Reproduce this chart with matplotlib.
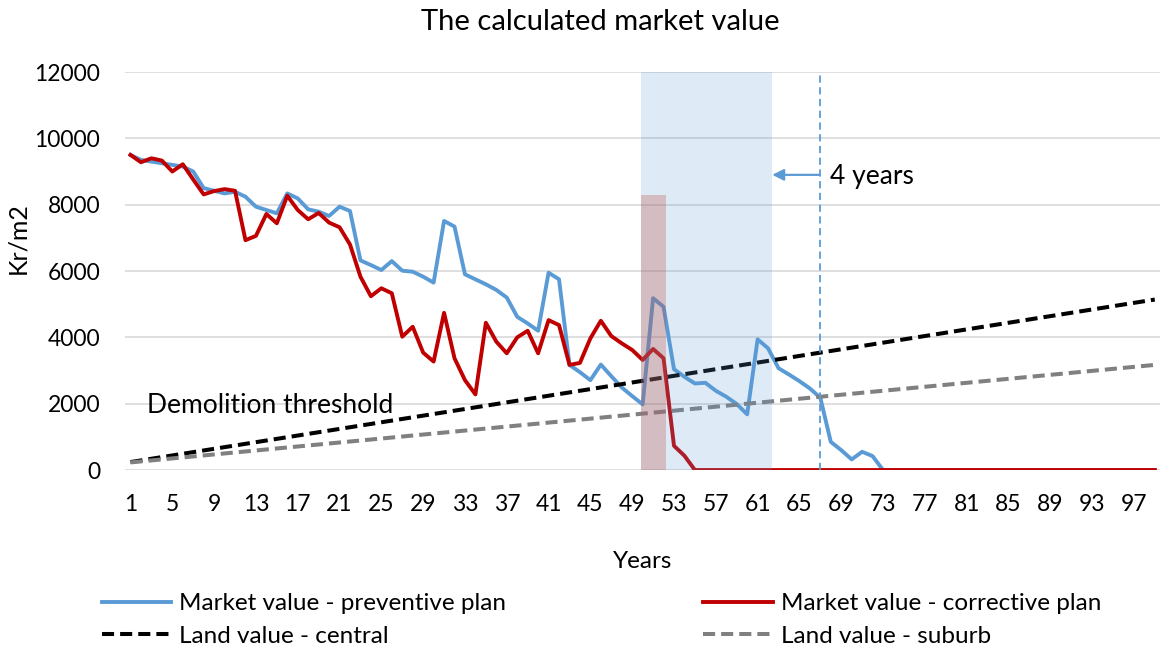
import matplotlib.pyplot as plt
from matplotlib.lines import Line2D

plt.rcParams["font.family"] = ["Lato", "DejaVu Sans"]

years = list(range(1, 100))

# Market value - preventive plan (Kr/m2)
preventive = [
    9500, 9350, 9300, 9250, 9200, 9150, 9000, 8500, 8420, 8340,
    8390, 8240, 7940, 7840, 7740, 8340, 8190, 7860, 7790, 7660,
    7940, 7810, 6320, 6180, 6030, 6300, 6010, 5980, 5830, 5650,
    7510, 7340, 5900, 5750, 5600, 5430, 5200, 4620, 4420, 4200,
    5950, 5750, 3170, 2950, 2710, 3180, 2830, 2490, 2230, 1980,
    5180, 4920, 3040, 2810, 2610, 2630, 2390, 2210, 1990, 1680,
    3940, 3670, 3070, 2880, 2680, 2460, 2180, 850, 600, 320,
    550, 420, 0, 0, 0, 0, 0, 0, 0, 0,
    0, 0, 0, 0, 0, 0, 0, 0, 0, 0,
    0, 0, 0, 0, 0, 0, 0, 0, 0,
]

# Market value - corrective plan (Kr/m2)
corrective = [
    9500, 9280, 9400, 9330, 9000, 9220, 8760, 8310, 8410, 8470,
    8420, 6930, 7060, 7720, 7440, 8270, 7840, 7560, 7750, 7460,
    7320, 6800, 5830, 5240, 5480, 5330, 4020, 4320, 3540, 3270,
    4740, 3370, 2710, 2280, 4440, 3870, 3520, 4000, 4200, 3520,
    4520, 4370, 3170, 3230, 3970, 4500, 4040, 3820, 3620, 3320,
    3650, 3370, 730, 430, 0, 0, 0, 0, 0, 0,
    0, 0, 0, 0, 0, 0, 0, 0, 0, 0,
    0, 0, 0, 0, 0, 0, 0, 0, 0, 0,
    0, 0, 0, 0, 0, 0, 0, 0, 0, 0,
    0, 0, 0, 0, 0, 0, 0, 0, 0,
]

# Land value - central (Kr/m2)
land_central = [
    240, 290, 340, 390, 440, 490, 540, 590, 640, 690,
    740, 790, 840, 890, 940, 990, 1040, 1090, 1140, 1190,
    1240, 1290, 1340, 1390, 1440, 1490, 1540, 1590, 1640, 1690,
    1740, 1790, 1840, 1890, 1940, 1990, 2040, 2090, 2140, 2190,
    2240, 2290, 2340, 2390, 2440, 2490, 2540, 2590, 2640, 2690,
    2740, 2790, 2840, 2890, 2940, 2990, 3040, 3090, 3140, 3190,
    3240, 3290, 3340, 3390, 3440, 3490, 3540, 3590, 3640, 3690,
    3740, 3790, 3840, 3890, 3940, 3990, 4040, 4090, 4140, 4190,
    4240, 4290, 4340, 4390, 4440, 4490, 4540, 4590, 4640, 4690,
    4740, 4790, 4840, 4890, 4940, 4990, 5040, 5090, 5140,
]

# Land value - suburb (Kr/m2)
land_suburb = [
    230, 260, 290, 320, 350, 380, 410, 440, 470, 500,
    530, 560, 590, 620, 650, 680, 710, 740, 770, 800,
    830, 860, 890, 920, 950, 980, 1010, 1040, 1070, 1100,
    1130, 1160, 1190, 1220, 1250, 1280, 1310, 1340, 1370, 1400,
    1430, 1460, 1490, 1520, 1550, 1580, 1610, 1640, 1670, 1700,
    1730, 1760, 1790, 1820, 1850, 1880, 1910, 1940, 1970, 2000,
    2030, 2060, 2090, 2120, 2150, 2180, 2210, 2240, 2270, 2300,
    2330, 2360, 2390, 2420, 2450, 2480, 2510, 2540, 2570, 2600,
    2630, 2660, 2690, 2720, 2750, 2780, 2810, 2840, 2870, 2900,
    2930, 2960, 2990, 3020, 3050, 3080, 3110, 3140, 3170,
]

# Highlighted periods
band_start, band_end = 49.8, 62.4     # preventive plan window
bar_start, bar_end, bar_top = 49.8, 52.2, 8300
marker_year = 67

tick_years = list(range(1, 100, 4))

blue = "#5b9bd5"
red = "#c00000"
dash = (0, (3.0, 1.5))

fig = plt.figure(figsize=(11.6, 6.46), dpi=100)
ax = fig.add_axes([0.108, 0.2724, 0.892, 0.6161])

ax.plot(years, preventive, color=blue, lw=2.8, zorder=3)
ax.plot(years, corrective, color=red, lw=2.8, zorder=3)
ax.plot(years, land_central, color="black", lw=2.9, ls=dash, zorder=3)
ax.plot(years, land_suburb, color="#808080", lw=2.9, ls=dash, zorder=3)

ax.axvspan(band_start, band_end, ymin=0, ymax=1, color=blue, alpha=0.2, lw=0, zorder=4)
ax.fill_between([bar_start, bar_end], 0, bar_top, color="#c0504d", alpha=0.3, lw=0, zorder=5)

ax.axvline(marker_year, color=blue, lw=1.3, ls=(0, (4, 2.5)), zorder=4)
ax.annotate("", xy=(band_end, 8900), xytext=(marker_year - 0.1, 8900),
            arrowprops=dict(arrowstyle="-|>", color=blue, lw=1.6,
                            mutation_scale=17, shrinkA=0, shrinkB=0))
ax.text(marker_year + 0.9, 8850, "4 years", fontsize=19, va="center", ha="left")
ax.text(2.55, 1950, "Demolition threshold", fontsize=19, va="center", ha="left")

ax.set_xlim(0.5, 99.5)
ax.set_ylim(0, 12000)
ax.set_yticks(range(0, 12001, 2000))
ax.set_xticks(tick_years)
ax.tick_params(axis="both", length=0, labelsize=16.5)
ax.tick_params(axis="x", pad=17)
ax.tick_params(axis="y", pad=18)
ax.grid(axis="y", color="#d9d9d9", lw=1.2)
ax.set_axisbelow(True)
for s in ax.spines.values():
    s.set_visible(False)

fig.suptitle("The calculated market value", fontsize=21, x=600 / 1160, y=1 - 22 / 646, va="center")
ax.set_xlabel("Years", fontsize=17.5, labelpad=26)
ax.set_ylabel("Kr/m2", fontsize=18)
ax.yaxis.set_label_coords(-0.093, 0.583)

handles = [
    Line2D([], [], color=blue, lw=2.8),
    Line2D([], [], color="black", lw=2.9, ls=dash),
    Line2D([], [], color=red, lw=2.8),
    Line2D([], [], color="#808080", lw=2.9, ls=dash),
]
labels = [
    "Market value - preventive plan",
    "Land value - central",
    "Market value - corrective plan",
    "Land value - suburb",
]
fig.legend(handles, labels, ncol=2, loc="upper left",
           bbox_to_anchor=(0.0776, 1 - 581 / 646), borderpad=0,
           frameon=False, fontsize=17.5, handlelength=2.85, handletextpad=0.33,
           columnspacing=8.1, labelspacing=0.48)

plt.savefig("out.png")
plt.close()
